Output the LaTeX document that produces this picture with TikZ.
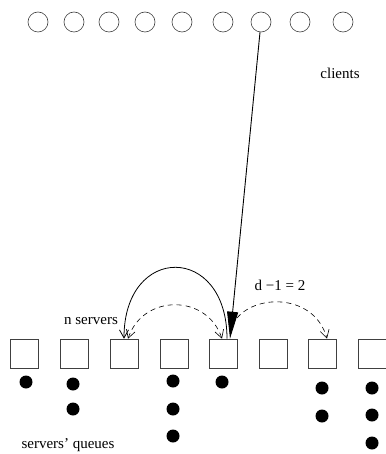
\documentclass[tikz,border=0pt]{standalone}
\usepackage{fontspec}
\setmainfont{Liberation Serif}
\usetikzlibrary{arrows.meta}

\tikzset{
    client/.style={circle, draw=black!75, line width=0.6pt, minimum size=20pt, inner sep=0pt},
    server/.style={rectangle, draw=black!75, line width=0.6pt, minimum width=28pt, minimum height=29pt, inner sep=0pt},
    txt/.style={font=\fontsize{15}{18}\selectfont, inner sep=0pt},
    barb/.tip={Straight Barb[length=8pt, width=9pt]},
    probe/.style={dashed, dash pattern=on 5pt off 4pt, line width=0.6pt}
}

\begin{document}
\begin{tikzpicture}[x=1pt, y=-1pt]
    \useasboundingbox (0,0) rectangle (385,454);

    % clients and servers
    \foreach \x [count=\i] in {38,74,109,145,182,223,261,300,343}
        \node[client] (c\i) at (\x,22) {};
    \foreach \x [count=\i] in {24,74,124,174,223,273,322,372}
        \node[server] (s\i) at (\x,353.5) {};

    % queued jobs
    \foreach \x/\y in {26/382, 73/384, 73/409, 173/381, 173/409, 173/436,
                       222/382, 322/388, 322/416, 372/388, 372/415, 372/443}
        \fill (\x,\y) circle (6.5pt);

    \node[txt] (clients) at (340,73) {clients};
    \node[txt] (dlabel) at (280,285) {d −1 = 2};
    \node[txt] (nservers) at (91,321) {n servers};
    \node[txt] (queues) at (68,445) {servers’ queues};

    \coordinate (q) at (237,318);
    \draw[probe, barb-barb] ([xshift=4pt]s3.north) .. controls +(15,-45) and +(-15,-45) .. ([xshift=-1pt]s5.north);
    \draw[probe, -barb] (q) .. controls (258,293) and (315,295) .. ([xshift=5pt]s7.north);
    \draw[line width=0.8pt, -barb] ([xshift=4pt]s5.north) .. controls +(0,-95) and +(0,-95) .. (s3.north);
    \draw[line width=0.9pt, -{Triangle[length=27pt, width=11pt]}] (c7) -- ([xshift=7pt]s5.north);
\end{tikzpicture}
\end{document}
